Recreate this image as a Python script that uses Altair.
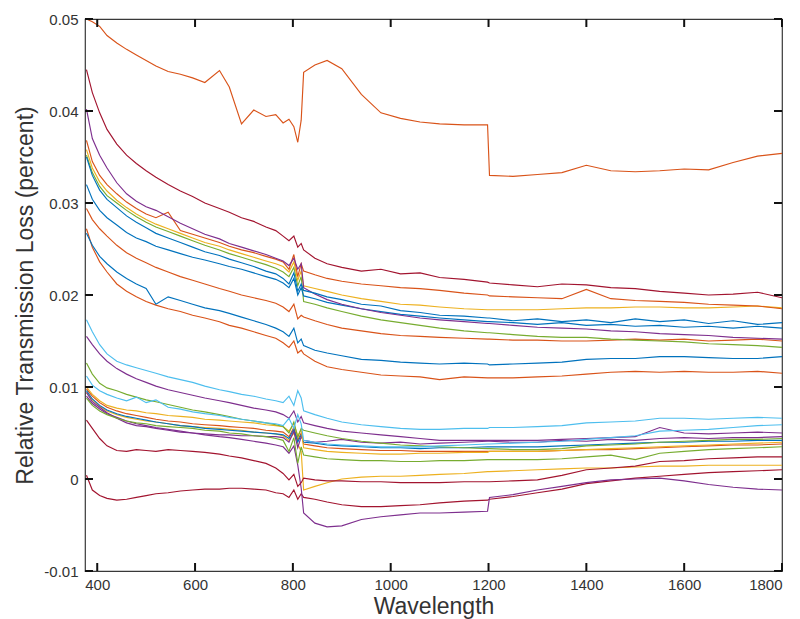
import altair as alt
import pandas as pd

# Wavelength grid (nm) shared by all series
wavelength = [378, 390, 405, 420, 440, 460, 480, 500, 520, 545, 570, 595,
              620, 650, 670, 695, 720, 745, 765, 780, 792, 802, 810, 817,
              822, 845, 870, 900, 940, 980, 1020, 1060, 1100, 1150, 1198, 1202,
              1250, 1300, 1350, 1400, 1450, 1500, 1550, 1600, 1650, 1700, 1750, 1800]

# Series values in units of 1e-4 (relative transmission loss)
o1 = [500, 497, 492, 482, 474, 467, 461, 455, 449, 443, 440, 436, 431, 444, 426, 386, 401, 394, 396, 387, 391, 383, 366, 390,
      442, 450, 455, 446, 418, 398, 392, 388, 386, 385, 385, 330, 329, 331, 333, 341, 335, 334, 335, 337, 336, 344, 351, 354]
r1 = [445, 420, 398, 380, 364, 352, 343, 335, 328, 320, 313, 307, 300, 294, 290, 284, 280, 274, 270, 264, 259, 264, 252, 256,
      249, 240, 234, 230, 226, 228, 223, 224, 219, 217, 214, 213, 211, 209, 212, 211, 208, 207, 204, 202, 200, 201, 203, 197]
p1 = [402, 370, 352, 338, 322, 310, 302, 296, 292, 285, 278, 272, 266, 261, 256, 252, 248, 244, 240, 237, 232, 240, 228, 234,
      208, 201, 195, 190, 185, 181, 178, 175, 173, 171, 169, 169, 167, 165, 164, 163, 161, 160, 158, 157, 156, 154, 153, 152]
o2 = [368, 345, 330, 320, 310, 301, 294, 288, 284, 290, 270, 266, 262, 257, 253, 249, 246, 242, 239, 236, 228, 244, 220, 234,
      226, 222, 218, 215, 212, 210, 208, 207, 205, 202, 200, 199, 198, 197, 196, 206, 196, 194, 193, 192, 190, 189, 188, 185]
y1 = [358, 338, 323, 313, 303, 295, 288, 282, 277, 272, 267, 262, 257, 253, 249, 245, 241, 237, 234, 231, 225, 236, 216, 226,
      210, 207, 204, 200, 196, 193, 190, 189, 187, 185, 184, 184, 184, 184, 185, 186, 186, 187, 187, 186, 186, 187, 188, 186]
g1 = [352, 333, 318, 308, 300, 292, 285, 279, 274, 269, 264, 259, 254, 249, 245, 241, 237, 233, 229, 225, 220, 230, 210, 220,
      193, 190, 186, 182, 177, 173, 170, 167, 164, 161, 159, 159, 157, 155, 154, 154, 152, 151, 150, 149, 147, 146, 145, 143]
b1 = [350, 330, 314, 304, 295, 286, 279, 273, 267, 262, 257, 252, 247, 243, 239, 235, 231, 226, 223, 218, 212, 224, 204, 212,
      205, 202, 198, 195, 190, 188, 183, 181, 178, 177, 175, 175, 172, 174, 171, 173, 170, 174, 171, 173, 169, 172, 168, 170]
b2 = [320, 304, 292, 284, 276, 268, 262, 258, 253, 249, 245, 241, 238, 234, 231, 228, 224, 220, 217, 213, 208, 218, 200, 208,
      199, 196, 192, 189, 185, 182, 179, 177, 175, 173, 171, 171, 170, 168, 170, 167, 168, 166, 167, 165, 166, 164, 166, 164]
o3 = [294, 282, 272, 264, 254, 246, 240, 235, 230, 225, 220, 216, 212, 207, 204, 200, 197, 194, 191, 187, 182, 190, 174, 178,
      176, 172, 168, 164, 161, 158, 156, 155, 154, 153, 152, 152, 151, 151, 150, 150, 151, 152, 151, 152, 150, 151, 152, 150]
b3 = [267, 254, 242, 234, 225, 218, 212, 207, 190, 198, 194, 190, 186, 183, 180, 176, 172, 168, 164, 160, 155, 164, 148, 152,
      145, 140, 137, 134, 130, 129, 127, 126, 125, 126, 125, 124, 125, 126, 127, 130, 131, 131, 133, 133, 132, 131, 131, 133]
o4 = [272, 252, 236, 225, 212, 204, 198, 193, 189, 185, 182, 178, 175, 171, 167, 164, 160, 156, 153, 148, 143, 150, 137, 140,
      136, 128, 122, 119, 116, 113, 112, 111, 108, 111, 110, 110, 110, 111, 112, 114, 116, 117, 116, 117, 116, 116, 117, 115]
lb1 = [173, 160, 146, 136, 128, 124, 121, 118, 115, 111, 108, 105, 101, 97, 95, 92, 90, 87, 85, 83, 90, 80, 96, 88,
       74, 70, 66, 62, 59, 57, 55, 54, 54, 55, 55, 56, 56, 57, 58, 61, 62, 63, 66, 66, 65, 66, 67, 66]
lb2 = [112, 102, 96, 92, 88, 85, 89, 83, 86, 78, 76, 73, 71, 69, 67, 65, 63, 61, 60, 58, 66, 55, 70, 60,
       42, 40, 38, 37, 36, 35, 35, 35, 36, 37, 38, 38, 39, 40, 41, 43, 45, 47, 52, 53, 54, 56, 58, 59]
p2 = [155, 146, 136, 128, 120, 114, 109, 105, 101, 97, 94, 91, 88, 85, 83, 80, 77, 75, 73, 70, 66, 74, 62, 68,
      61, 58, 55, 52, 50, 48, 46, 44, 42, 42, 42, 42, 42, 42, 43, 44, 45, 46, 56, 50, 49, 50, 51, 50]
g2 = [126, 114, 104, 99, 96, 92, 89, 86, 84, 81, 78, 75, 73, 70, 68, 65, 63, 61, 59, 57, 50, 62, 45, 55,
      53, 50, 47, 44, 41, 39, 37, 36, 35, 34, 33, 33, 32, 32, 33, 36, 37, 38, 40, 41, 42, 43, 43, 44]
y2 = [100, 92, 85, 80, 77, 75, 74, 72, 71, 69, 68, 67, 65, 64, 63, 62, 61, 59, 58, 57, 52, 60, 47, 54,
      34, 32, 30, 29, 28, 27, 27, 28, 28, 29, 29, 30, 30, 30, 31, 32, 33, 34, 35, 36, 37, 38, 39, 40]
g3 = [88, 80, 74, 70, 66, 63, 61, 60, 58, 57, 56, 55, 53, 52, 50, 49, 47, 46, 44, 42, 30, 45, 17, 35,
      26, 24, 22, 21, 20, 20, 19, 19, 20, 20, 21, 21, 21, 21, 22, 24, 26, 21, 28, 30, 32, 33, 34, 35]
p3 = [94, 84, 78, 72, 66, 61, 58, 57, 55, 53, 51, 50, 49, 48, 48, 47, 47, 46, 46, 45, 40, 52, 34, 46,
      42, 40, 41, 43, 40, 39, 40, 38, 39, 40, 41, 41, 40, 40, 42, 41, 43, 42, 44, 45, 44, 45, 45, 46]
b4 = [96, 87, 80, 75, 71, 68, 66, 64, 62, 60, 58, 57, 55, 54, 53, 52, 51, 50, 49, 48, 44, 54, 40, 48,
      40, 39, 37, 36, 35, 34, 34, 33, 34, 34, 35, 35, 35, 35, 36, 37, 38, 39, 40, 40, 41, 41, 42, 42]
o5 = [98, 90, 83, 78, 74, 71, 69, 67, 65, 63, 62, 60, 59, 58, 57, 56, 55, 53, 52, 51, 46, 56, 42, 50,
      38, 36, 34, 33, 32, 31, 31, 30, 30, 30, 30, 30, 30, 30, 31, 32, 32, 33, 34, 35, 36, 37, 37, 38]
y3 = [94, 86, 79, 74, 70, 67, 65, 63, 62, 60, 58, 57, 56, 55, 54, 53, 51, 50, 49, 47, 42, 50, 38, 30,
      -12, -8, -4, 0, 2, 3, 3, 4, 5, 6, 8, 8, 9, 10, 11, 12, 12, 13, 14, 14, 15, 15, 15, 15]
p4 = [90, 82, 76, 71, 67, 63, 60, 58, 56, 54, 52, 50, 48, 46, 45, 43, 41, 39, 37, 35, 28, 36, 15, -10,
      -37, -48, -52, -51, -44, -41, -39, -37, -37, -36, -35, -20, -17, -12, -8, -4, -1, 0, 1, -2, -6, -9, -11, -12]
r2 = [64, 55, 44, 36, 31, 30, 32, 31, 30, 32, 31, 30, 29, 27, 25, 23, 20, 17, 12, 6, -1, 5, -8, -4,
      1, -1, -2, -2, -3, -3, -4, -4, -4, -3, -3, -3, -2, -1, 4, 10, 12, 14, 19, 20, 22, 23, 24, 24]
r3 = [4, -12, -18, -21, -23, -22, -20, -18, -16, -15, -13, -12, -11, -11, -10, -10, -11, -12, -15, -16, -20, -12, -22, -16,
      -20, -22, -25, -28, -30, -30, -29, -28, -26, -24, -23, -22, -19, -15, -11, -5, -2, 1, 3, 5, 7, 8, 9, 10]

BLUE, ORANGE, YELLOW, PURPLE = "#0072BD", "#D95319", "#EDB120", "#7E2F8E"
GREEN, LIGHTBLUE, DARKRED = "#77AC30", "#4DBEEE", "#A2142F"

series = [
    ("r3", r3, DARKRED), ("p4", p4, PURPLE), ("y3", y3, YELLOW), ("r2", r2, DARKRED),
    ("o5", o5, ORANGE), ("b4", b4, BLUE), ("p3", p3, PURPLE), ("g3", g3, GREEN),
    ("y2", y2, YELLOW), ("g2", g2, GREEN), ("p2", p2, PURPLE), ("lb2", lb2, LIGHTBLUE),
    ("lb1", lb1, LIGHTBLUE),
    ("o4", o4, ORANGE), ("b3", b3, BLUE), ("o3", o3, ORANGE), ("g1", g1, GREEN),
    ("y1", y1, YELLOW), ("o2", o2, ORANGE), ("b2", b2, BLUE), ("p1", p1, PURPLE),
    ("b1", b1, BLUE), ("r1", r1, DARKRED), ("o1", o1, ORANGE),
]

x_ticks = [400, 600, 800, 1000, 1200, 1400, 1600, 1800]
y_ticks = [-0.01, 0, 0.01, 0.02, 0.03, 0.04, 0.05]
x_domain = [375, 1800]
y_domain = [-0.01, 0.05]

rows = []
for name, vals, _ in series:
    n = min(len(vals), len(wavelength))
    for i in range(n):
        rows.append({"s": name, "wl": wavelength[i], "v": vals[i] * 1e-4})
df = pd.DataFrame(rows)

names = [s[0] for s in series]
cols = [s[2] for s in series]

W, H = 697, 552
FONT = "Liberation Sans"
TXT = "#333333"
FRAME = "#383838"
TICKLEN = 8

# inward tick lengths expressed in data units of each scale
dx = (x_domain[1] - x_domain[0]) * TICKLEN / W
dy = (y_domain[1] - y_domain[0]) * TICKLEN / H

xscale = alt.Scale(domain=x_domain, nice=False, zero=False)
yscale = alt.Scale(domain=y_domain, nice=False, zero=False)
XT = "Wavelength"
YT = "Relative Transmission Loss (percent)"

xaxis = alt.Axis(values=x_ticks, title=XT, grid=False, ticks=False, domain=False,
                 format="d",
                 labelFont=FONT, labelFontSize=15, labelColor=TXT, labelPadding=6,
                 titleFont=FONT, titleFontSize=23, titleFontWeight="normal", titleColor=TXT,
                 titlePadding=3)
yaxis = alt.Axis(values=y_ticks, title=YT, grid=False, ticks=False, domain=False,
                 labelExpr="datum.value == 0 ? '0' : replace(format(datum.value, '.2f'), '\u2212', '-')",
                 labelFont=FONT, labelFontSize=15, labelColor=TXT, labelPadding=7,
                 titleFont=FONT, titleFontSize=23, titleFontWeight="normal", titleColor=TXT,
                 titlePadding=6)

lines = alt.Chart(df).mark_line(strokeWidth=1.15).encode(
    x=alt.X("wl:Q", scale=xscale, axis=xaxis),
    y=alt.Y("v:Q", scale=yscale, axis=yaxis),
    color=alt.Color("s:N", scale=alt.Scale(domain=names, range=cols), legend=None),
)

# inward tick segments on all four sides of the frame
xt_rows = []
for t in x_ticks:
    xt_rows.append({"wl": t, "v": y_domain[0], "v2": y_domain[0] + dy})
    xt_rows.append({"wl": t, "v": y_domain[1], "v2": y_domain[1] - dy})
yt_rows = []
for t in y_ticks:
    yt_rows.append({"v": t, "wl": x_domain[0], "wl2": x_domain[0] + dx})
    yt_rows.append({"v": t, "wl": x_domain[1], "wl2": x_domain[1] - dx})
xt = pd.DataFrame(xt_rows)
yt = pd.DataFrame(yt_rows)

x_tick_marks = alt.Chart(xt).mark_rule(color="#111111", strokeWidth=2).encode(
    x=alt.X("wl:Q", scale=xscale),
    y=alt.Y("v:Q", scale=yscale),
    y2="v2:Q",
)
y_tick_marks = alt.Chart(yt).mark_rule(color="#111111", strokeWidth=2).encode(
    y=alt.Y("v:Q", scale=yscale),
    x=alt.X("wl:Q", scale=xscale),
    x2="wl2:Q",
)

chart = alt.layer(lines, x_tick_marks, y_tick_marks).properties(
    width=W, height=H,
    autosize=alt.AutoSizeParams(type="none"),
    padding={"left": 85, "top": 19, "right": 18, "bottom": 48},
    background="white",
).configure_view(stroke=FRAME, strokeWidth=1.2)

chart.save("out.html", embed_options={"renderer": "svg", "actions": False})
